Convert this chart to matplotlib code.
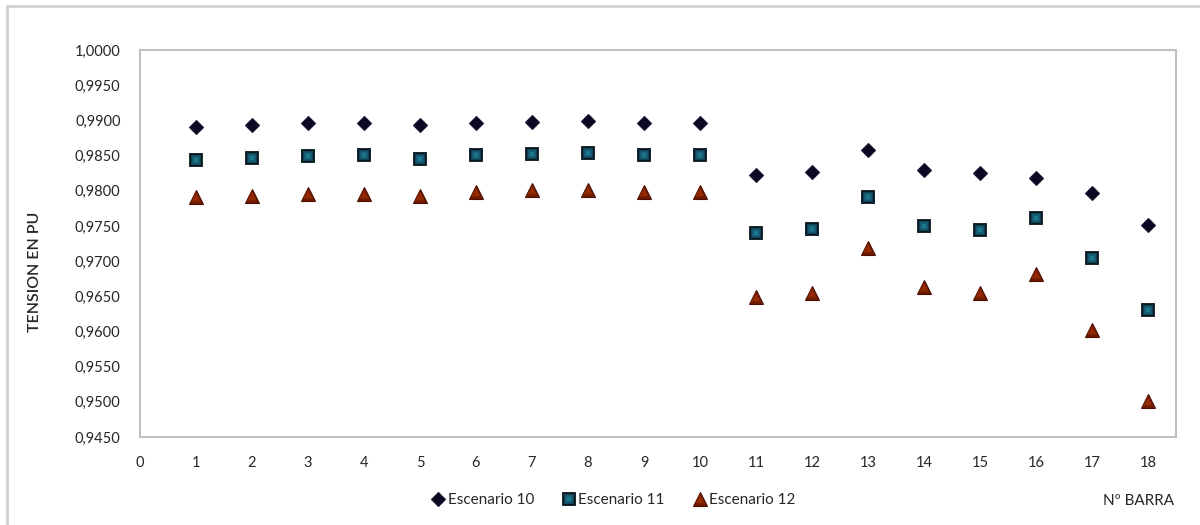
import matplotlib
matplotlib.use("Agg")
import matplotlib.pyplot as plt
from matplotlib.patches import Rectangle
from matplotlib.ticker import FuncFormatter, MultipleLocator
from matplotlib.legend_handler import HandlerTuple

plt.rcParams['font.family'] = ['Lato', 'DejaVu Sans']

barras = list(range(1, 19))
escenario_10 = [0.9890, 0.9893, 0.9896, 0.9896, 0.9894, 0.9896, 0.9897, 0.9899, 0.9896, 0.9896,
                0.9822, 0.9826, 0.9858, 0.9829, 0.9825, 0.9818, 0.9797, 0.9751]
escenario_11 = [0.9844, 0.9846, 0.9849, 0.9851, 0.9845, 0.9851, 0.9852, 0.9853, 0.9851, 0.9851,
                0.9740, 0.9745, 0.9791, 0.9750, 0.9744, 0.9761, 0.9705, 0.9631]
escenario_12 = [0.9791, 0.9792, 0.9795, 0.9796, 0.9792, 0.9798, 0.9801, 0.9801, 0.9798, 0.9798,
                0.9649, 0.9655, 0.9719, 0.9663, 0.9655, 0.9681, 0.9602, 0.9501]
series_labels = ['Escenario 10', 'Escenario 11', 'Escenario 12']

fig = plt.figure(figsize=(12, 5.25), dpi=100)
ax = fig.add_axes([140 / 1200, 1 - 437 / 525, (1176 - 140) / 1200, (437 - 50) / 525])

text_color = '#262626'
frame_color = '#bfbfbf'


def shaded_markers(y, marker, layers, edge, edge_width):
    """Stack shrinking markers to give a soft centre-lit shading."""
    handles = []
    for i, (size, colour) in enumerate(layers):
        h, = ax.plot(barras, y, linestyle='none', marker=marker, markersize=size,
                     markerfacecolor=colour,
                     markeredgecolor=edge if i == 0 else colour,
                     markeredgewidth=edge_width if i == 0 else 0,
                     zorder=3 + i * 0.01)
        handles.append(h)
    return tuple(handles)


h10 = shaded_markers(escenario_10, 'D', [(7, '#0c0a22')], '#1a1533', 0.8)
h11 = shaded_markers(escenario_11, 's',
                     [(9.2, '#0c3344'), (7.8, '#104457'), (6.3, '#145569'),
                      (4.8, '#18657b'), (3.3, '#1b718a'), (1.8, '#1f7b95')],
                     '#07141c', 1.3)
h12 = shaded_markers(escenario_12, '^',
                     [(9.5, '#6e1a00'), (7.5, '#7e2000'), (5.5, '#8c2600'), (3.5, '#962b04')],
                     '#4a1000', 0.8)

ax.set_xlim(0, 18.5)
ax.set_ylim(0.9450, 1.0000)
ax.xaxis.set_major_locator(MultipleLocator(1))
ax.yaxis.set_major_locator(MultipleLocator(0.005))
ax.yaxis.set_major_formatter(FuncFormatter(lambda v, p: f"{v:.4f}".replace('.', ',')))
ax.tick_params(axis='both', length=0, labelsize=10.5, labelcolor=text_color)
ax.tick_params(axis='x', pad=14)
ax.tick_params(axis='y', pad=14)

for side in ax.spines.values():
    side.set_color(frame_color)
    side.set_linewidth(1.5)

fig.text(35 / 1200, 1 - 272 / 525, 'TENSION EN PU', rotation=90, ha='center', va='center',
         fontsize=11.5, fontweight='semibold', color=text_color)
fig.text(1139 / 1200, 1 - 501 / 525, 'Nº BARRA', ha='center', va='center',
         fontsize=11, color=text_color)

fig.legend(handles=[h10, h11, h12], labels=series_labels, loc='center',
           bbox_to_anchor=(613 / 1200, 1 - 500 / 525), ncol=3, frameon=False,
           fontsize=11, handletextpad=0.1, columnspacing=1.8, handlelength=1.0,
           labelcolor=text_color, handler_map={tuple: HandlerTuple(ndivide=1)})

# outer chart border
fig.patches.append(Rectangle((7 / 1200, -0.05), 1.1, 1 - 6 / 525 + 0.05,
                             transform=fig.transFigure, fill=False,
                             edgecolor='#d0d0d0', linewidth=2))

fig.savefig('out.png', dpi=100, facecolor='white')
